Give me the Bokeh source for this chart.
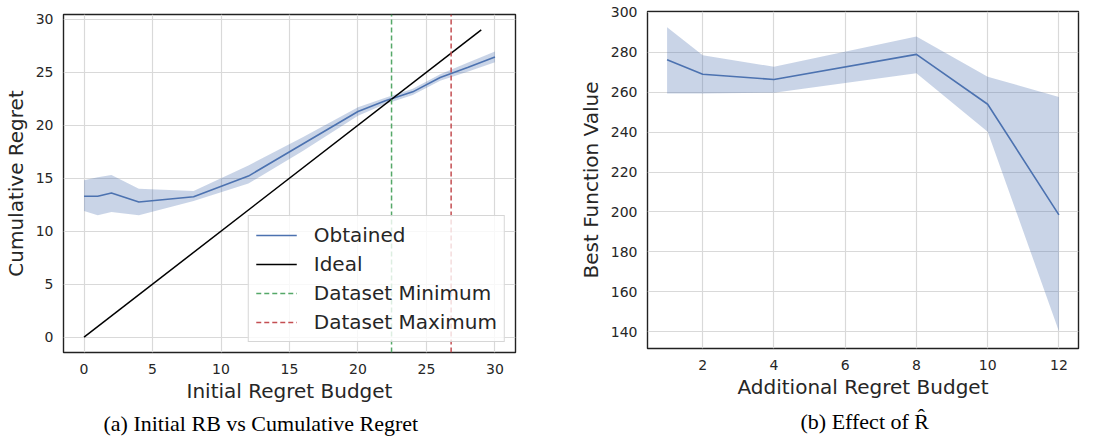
from bokeh.plotting import figure
from bokeh.layouts import row, column
from bokeh.models import ColumnDataSource, Title, Legend, LegendItem, Range1d, FixedTicker
from bokeh.embed import file_html
from bokeh.resources import INLINE

# ---- Panel (a): Initial RB vs Cumulative Regret ----
cr_x = [0, 1, 2, 4, 8, 12, 16, 20, 22, 24, 26, 28, 30]
cr_mean = [13.3, 13.3, 13.6, 12.75, 13.25, 15.2, 18.25, 21.3, 22.3, 23.15, 24.5, 25.45, 26.45]
cr_lower = [11.9, 11.5, 11.8, 11.5, 12.85, 14.5, 17.6, 20.9, 22.0, 22.85, 24.2, 25.05, 25.95]
cr_upper = [14.8, 15.1, 15.3, 14.0, 13.8, 16.2, 18.9, 21.7, 22.6, 23.45, 24.8, 25.9, 26.95]
ideal_x = [0, 29]
ideal_y = [0, 29]
dataset_min = 22.45
dataset_max = 26.8
a_xticks = [0, 5, 10, 15, 20, 25, 30]
a_yticks = [0, 5, 10, 15, 20, 25, 30]

# ---- Panel (b): Effect of R-hat ----
fv_x = [1, 2, 4, 8, 10, 12]
fv_mean = [276.3, 269.0, 266.4, 279.0, 254.0, 198.5]
fv_lower = [259.4, 259.4, 259.8, 269.5, 240.2, 140.2]
fv_upper = [292.6, 278.5, 272.8, 288.0, 267.8, 257.6]
b_xticks = [2, 4, 6, 8, 10, 12]
b_yticks = [140, 160, 180, 200, 220, 240, 260, 280, 300]

BLUE = "#4C72B0"
GREEN = "#55A868"
RED = "#C44E52"
TXT = "#262626"
FONT = "DejaVu Sans"
SERIF = "Liberation Serif"


def style(p, xticks, yticks, xlabel, ylabel):
    p.xaxis.ticker = FixedTicker(ticks=xticks)
    p.yaxis.ticker = FixedTicker(ticks=yticks)
    for ax in (p.xaxis[0], p.yaxis[0]):
        ax.axis_line_color = None
        ax.major_tick_line_color = None
        ax.minor_tick_line_color = None
        ax.major_tick_out = 0
        ax.major_tick_in = 0
        ax.minor_tick_out = 0
        ax.major_label_text_font = FONT
        ax.major_label_text_font_size = "14px"
        ax.major_label_text_color = TXT
        ax.axis_label_text_font = FONT
        ax.axis_label_text_font_size = "20px"
        ax.axis_label_text_font_style = "normal"
        ax.axis_label_text_color = TXT
    p.xaxis.axis_label = xlabel
    p.yaxis.axis_label = ylabel
    p.xaxis.major_label_standoff = 11
    p.yaxis.major_label_standoff = 10
    p.xaxis.axis_label_standoff = 2
    p.yaxis.axis_label_standoff = 5
    p.grid.grid_line_color = "#d9d9d9"
    p.grid.grid_line_width = 1.2
    p.outline_line_color = "#222222"
    p.outline_line_width = 1.4
    p.background_fill_color = "white"
    p.border_fill_color = "white"


def caption(p, text, offset, standoff):
    p.add_layout(Title(text=text, align="left", offset=offset,
                       text_font=SERIF, text_font_size="22px", text_font_style="normal",
                       text_color="black", standoff=standoff), "below")


# Panel (a)
a_xr = Range1d(-1.5, 31.5)
a_yr = Range1d(-1.45, 30.45)
pa = figure(width=560, height=444, output_backend="svg", toolbar_location=None,
            x_range=a_xr, y_range=a_yr,
            min_border_left=62, min_border_right=45, min_border_top=14, min_border_bottom=92)
style(pa, a_xticks, a_yticks, "Initial Regret Budget", "Cumulative Regret")

src_a = ColumnDataSource(dict(x=cr_x, m=cr_mean, lo=cr_lower, hi=cr_upper))
pa.varea(x="x", y1="lo", y2="hi", source=src_a, fill_color=BLUE, fill_alpha=0.3)
r_obt = pa.line(x="x", y="m", source=src_a, line_color=BLUE, line_width=1.6)
r_ideal = pa.line(x=ideal_x, y=ideal_y, line_color="black", line_width=1.5)
r_min = pa.line(x=[dataset_min, dataset_min], y=[a_yr.start, a_yr.end],
                line_color=GREEN, line_dash="5 3", line_width=1.5)
r_max = pa.line(x=[dataset_max, dataset_max], y=[a_yr.start, a_yr.end],
                line_color=RED, line_dash="5 3", line_width=1.5)

legend = Legend(items=[
    LegendItem(label="Obtained", renderers=[r_obt]),
    LegendItem(label="Ideal", renderers=[r_ideal]),
    LegendItem(label="Dataset Minimum", renderers=[r_min]),
    LegendItem(label="Dataset Maximum", renderers=[r_max]),
], location="bottom_right")
legend.margin = 10
legend.padding = 7
legend.spacing = 5
legend.glyph_width = 41
legend.glyph_height = 24
legend.label_height = 24
legend.label_standoff = 17
legend.label_text_font = FONT
legend.label_text_font_size = "20px"
legend.label_text_color = TXT
legend.border_line_color = "#cccccc"
legend.border_line_alpha = 0.8
legend.background_fill_alpha = 0.8
pa.add_layout(legend, "center")

caption(pa, "(a) Initial RB vs Cumulative Regret", 40, 7)

# Panel (b)
pb = figure(width=550, height=444, output_backend="svg", toolbar_location=None,
            x_range=Range1d(0.45, 12.55), y_range=Range1d(131.5, 300.5),
            min_border_left=87, min_border_right=32, min_border_top=11, min_border_bottom=96)
style(pb, b_xticks, b_yticks, "Additional Regret Budget", "Best Function Value")

src_b = ColumnDataSource(dict(x=fv_x, m=fv_mean, lo=fv_lower, hi=fv_upper))
pb.varea(x="x", y1="lo", y2="hi", source=src_b, fill_color=BLUE, fill_alpha=0.3)
pb.line(x="x", y="m", source=src_b, line_color=BLUE, line_width=1.6)

caption(pb, "(b) Effect of R\u0302", 153, 10)

layout = row(column(pa), column(pb), spacing=0)
open("out.html", "w").write(file_html(layout, INLINE))
